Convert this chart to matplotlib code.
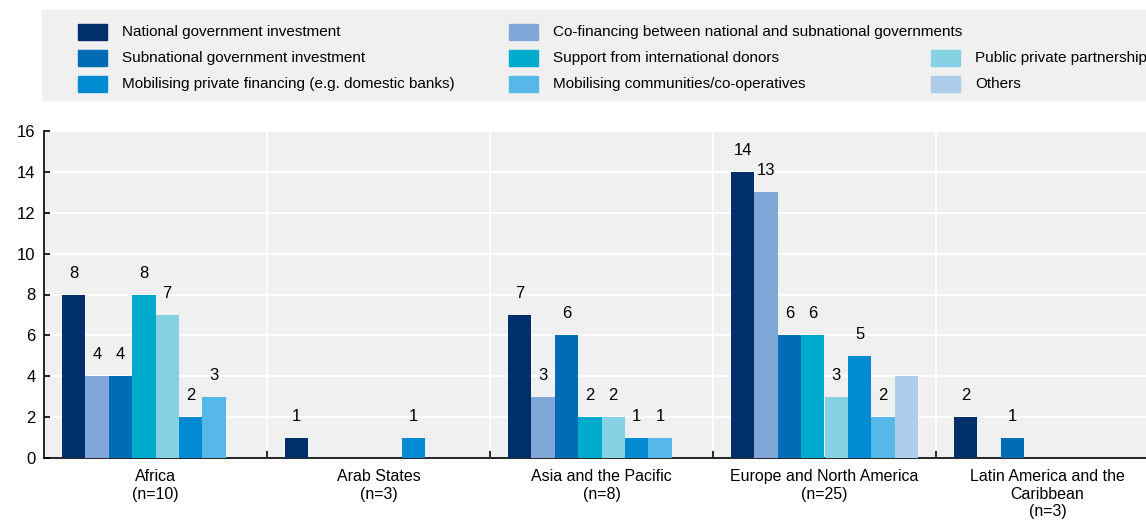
import matplotlib.pyplot as plt
import numpy as np
from matplotlib.patches import Rectangle

regions = ["Africa\n(n=10)", "Arab States\n(n=3)", "Asia and the Pacific\n(n=8)",
           "Europe and North America\n(n=25)", "Latin America and the\nCaribbean\n(n=3)"]
series = [
    "National government investment",
    "Co-financing between national and subnational governments",
    "Subnational government investment",
    "Support from international donors",
    "Public private partnership",
    "Mobilising private financing (e.g. domestic banks)",
    "Mobilising communities/co-operatives",
    "Others",
]
colors = ["#002F6C", "#7FA8D9", "#006BB6", "#00AACC", "#86D2E4", "#008AD2", "#55B8E8", "#AECDEC"]
values = [
    [8, 1, 7, 14, 2],
    [4, 0, 3, 13, 0],
    [4, 0, 6, 6, 1],
    [8, 0, 2, 6, 0],
    [7, 0, 2, 3, 0],
    [2, 1, 1, 5, 0],
    [3, 0, 1, 2, 0],
    [0, 0, 0, 4, 0],
]
# the source leaves the "Others" bar in Europe unlabelled
show_label = [[True] * 5 for _ in series]
show_label[7][3] = False

# legend grid as in the source (row, column); row 0 column 2 is empty
legend_slots = [(0, 0), (0, 1), (1, 0), (1, 1), (1, 2), (2, 0), (2, 1), (2, 2)]

plt.rcParams["font.family"] = ["Liberation Sans Narrow", "Liberation Sans", "DejaVu Sans"]
plt.rcParams["font.size"] = 11.5

W, H = 1146, 523
fig = plt.figure(figsize=(W / 100, H / 100), dpi=100)
ax = fig.add_axes([44 / W, (H - 458) / H, 1115 / W, (458 - 131) / H])
ax.set_facecolor("#F0F0F0")

x = np.arange(len(regions))
width = 0.105
for i, (name, vals) in enumerate(zip(series, values)):
    pos = x + (i - 3.5) * width
    bars = ax.bar(pos, vals, width, color=colors[i], label=name, zorder=3)
    labels = [str(v) if (v > 0 and show_label[i][j]) else "" for j, v in enumerate(vals)]
    ax.bar_label(bars, labels=labels, padding=10, fontsize=12, color="#000000")

ax.set_xlim(-0.5, len(regions) - 0.5)
ax.set_ylim(0, 16)
ax.set_yticks(range(0, 17, 2))
ax.tick_params(axis="y", labelsize=12)
ax.grid(axis="y", color="white", linewidth=1.5, zorder=1)
for b in np.arange(0.5, len(regions) - 0.5, 1):
    ax.axvline(b, color="white", linewidth=1.5, zorder=1)

ax.set_xticks(x, regions)
ax.set_xticks(np.arange(0.5, len(regions) - 0.5, 1), minor=True)
ax.tick_params(axis="x", which="major", length=0, pad=8)
ax.tick_params(axis="x", which="minor", direction="in", length=5, width=1.2)
ax.tick_params(axis="y", direction="in", length=4, width=1.2, pad=6)
ax.spines[["top", "right"]].set_visible(False)
ax.spines[["left", "bottom"]].set_linewidth(1.2)

# legend box drawn in figure pixels
fig.patches.append(Rectangle((42 / W, (H - 100) / H), (W - 42) / W, 90 / H,
                             transform=fig.transFigure, color="#F0F0F0", zorder=0))
col_x = [78, 509, 931]
row_y = [32, 58, 84]
for i, (row, col) in enumerate(legend_slots):
    px, py = col_x[col], row_y[row]
    fig.patches.append(Rectangle((px / W, (H - py - 8) / H), 29 / W, 16 / H,
                                 transform=fig.transFigure, color=colors[i], zorder=1))
    fig.text((px + 44) / W, (H - py) / H, series[i], va="center", ha="left", fontsize=11)

fig.savefig("out.png", dpi=100)
